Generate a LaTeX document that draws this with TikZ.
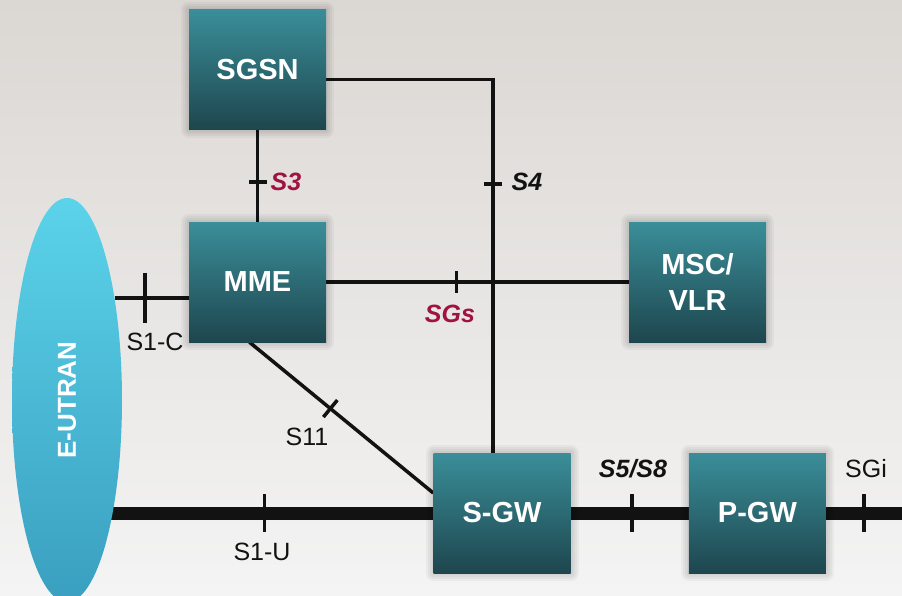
\documentclass[tikz,border=0pt]{standalone}
\usepackage{fontspec}
\setmainfont{Liberation Sans}
\usetikzlibrary{positioning,shapes.geometric,backgrounds}
\definecolor{cback}{HTML}{DBD7D3}
\definecolor{cbackl}{HTML}{F4F4F4}
\definecolor{cboxt}{HTML}{3A8E99}
\definecolor{cboxb}{HTML}{1E464E}
\definecolor{cran}{HTML}{5BD3EA}
\definecolor{cranb}{HTML}{3A9FC0}
\definecolor{cred}{HTML}{A0123F}
\definecolor{cink}{HTML}{121212}
\pgfdeclarelayer{backdrop}
\pgfsetlayers{backdrop,background,main}
\tikzset{tick/.pic={\draw[line width=3.5pt,draw=cink] (0,-#1) -- (0,#1);}}

\begin{document}
\begin{tikzpicture}[x=1pt,y=-1pt,
    halo/.style={preaction={draw=black,draw opacity=.035,line width=#1,line join=round}},
    box/.style={rectangle,minimum width=137pt,minimum height=120pt,inner sep=0pt,
                top color=cboxt,bottom color=cboxb,text=white,align=center,
                font=\bfseries\fontsize{29}{36}\selectfont,
                halo=16pt,halo=12pt,halo=8pt,halo=4pt},
    ran/.style={ellipse,minimum width=110pt,minimum height=404pt,inner sep=0pt,
                top color=cran,bottom color=cranb},
    link/.style={draw=cink,line width=3.5pt},
    bus/.style={draw=cink,line width=13pt},
    lbl/.style={inner sep=0pt,text=cink,font=\fontsize{25}{30}\selectfont},
    ilbl/.style={lbl,font=\bfseries\itshape\fontsize{25}{30}\selectfont}]
    \useasboundingbox (0,0) rectangle (902,595);
    \clip (0,0) rectangle (902,595);
    \begin{pgfonlayer}{backdrop}
      \shade[top color=cback,bottom color=cbackl] (0,0) rectangle (902,595);
    \end{pgfonlayer}
    % network elements
    \node[box] (sgsn) at (257.5,69.5) {SGSN};
    \node[box] (mme)  at (257.5,282)  {MME};
    \node[box] (msc)  at (697.5,282)  {MSC/\\VLR};
    \node[box] (sgw)  at (502,513)    {S-GW};
    \node[box,right=118pt of sgw] (pgw) {P-GW};
    \node[ran] (eutran) at (67,400) {};
    \node[rotate=90,text=white,inner sep=0pt,font=\bfseries\fontsize{26}{30}\selectfont]
         (eutranlbl) at (eutran) {E-UTRAN};
    \coordinate (sgiend) at (902,513);
    % interfaces
    \begin{scope}[on background layer]
      \draw[link] (sgsn) -- (mme) pic[pos=.57,sloped]{tick=9};
      \draw[link] ([yshift=-10pt]sgsn.east) -| ([xshift=-9pt]sgw.north) pic[pos=.64,sloped]{tick=9};
      \draw[link] (mme) -- (msc) pic[pos=.43,sloped]{tick=11};
      \draw[link] (eutran.65) -- (eutran.65 -| mme.west) pic[pos=.41,sloped]{tick=25};
      \draw[link] ([xshift=-8pt]mme.south) -- ([yshift=20pt]sgw.west) pic[pos=.44,sloped]{tick=11};
      \draw[bus] ([xshift=-14pt]sgw.west -| eutran.-68) -- (sgw.west) pic[pos=.495,sloped]{tick=19};
      \draw[bus] (sgw) -- (pgw) pic[pos=.52,sloped]{tick=19};
      \draw[bus] (pgw) -- (sgiend) pic[pos=.5,sloped]{tick=19};
    \end{scope}
    % interface names
    \node[ilbl,text=cred] (ls3)  at (286,182) {S3};
    \node[ilbl]           (ls4)  at (527,182) {S4};
    \node[ilbl,text=cred] (lsgs) at (450,314) {SGs};
    \node[lbl]            (ls1c) at (155,342) {S1-C};
    \node[lbl]            (ls11) at (307,437) {S11};
    \node[lbl]            (ls1u) at (262,552) {S1-U};
    \node[ilbl]           (ls58) at (633,469) {S5/S8};
    \node[lbl]            (lsgi) at (866,469) {SGi};
\end{tikzpicture}
\end{document}
